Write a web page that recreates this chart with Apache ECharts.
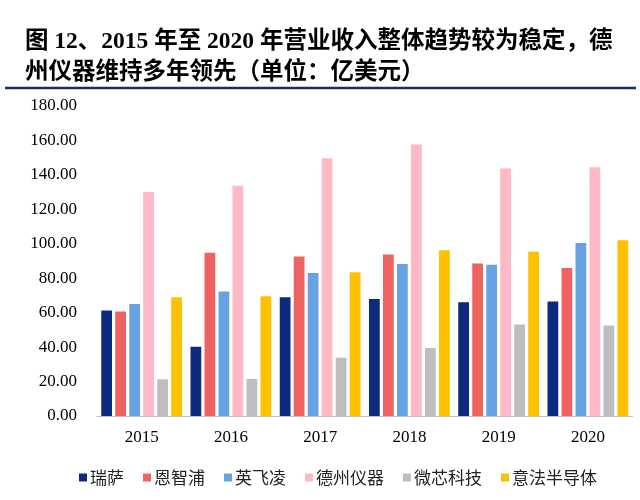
<!DOCTYPE html>
<html>
<head>
<meta charset="utf-8">
<script src="https://cdn.jsdelivr.net/npm/echarts@6/dist/echarts.min.js"></script>
<style>html,body{margin:0;padding:0;background:#fff;}#c{width:640px;height:500px;}</style>
</head>
<body>
<div id="c"></div>
<script>
var years = ['2015', '2016', '2017', '2018', '2019', '2020'];
var renesas  = [61.3, 40.2, 69.0, 68.0, 66.0, 66.5];
var nxp      = [60.7, 94.8, 92.6, 93.8, 88.6, 85.9];
var infineon = [65.0, 72.3, 83.1, 88.2, 87.8, 100.4];
var ti       = [130.0, 133.7, 149.6, 157.6, 143.7, 144.5];
var microchip= [21.3, 21.5, 33.9, 39.5, 53.2, 52.6];
var st       = [68.9, 69.6, 83.5, 96.3, 95.4, 102.1];
var seriesNames = ['瑞萨', '恩智浦', '英飞凌', '德州仪器', '微芯科技', '意法半导体'];
var seriesData = [renesas, nxp, infineon, ti, microchip, st];
var colors = ['#0E2A7E', '#EF6262', '#67A2E2', '#FFB8C6', '#BEBEBE', '#FFC000'];

var serif = "'Liberation Serif', 'Times New Roman', 'Noto Sans CJK SC', serif";
var chart = echarts.init(document.getElementById('c'), null, {renderer: 'canvas'});
chart.setOption({
  animation: false,
  backgroundColor: '#fff',
  color: colors,
  title: {
    text: '图 12、2015 年至 2020 年营业收入整体趋势较为稳定，德\n州仪器维持多年领先（单位：亿美元）',
    left: 20,
    top: 21,
    textStyle: {fontFamily: serif, fontWeight: 'bold', fontSize: 23.5, lineHeight: 31, color: '#000'}
  },
  graphic: [{
    type: 'line',
    shape: {x1: 5, y1: 88, x2: 636, y2: 88},
    style: {stroke: '#1F2A6E', lineWidth: 2.5}
  }],
  grid: {left: 97, right: 7.5, top: 106, bottom: 84},
  legend: {
    left: 74,
    top: 464,
    itemWidth: 8,
    itemHeight: 8,
    itemGap: 19,
    icon: 'rect',
    textStyle: {fontFamily: "'Noto Sans CJK SC', sans-serif", fontSize: 17, color: '#222', padding: [0, 0, 0, -2]},
    data: seriesNames
  },
  xAxis: {
    type: 'category',
    data: years,
    axisLine: {lineStyle: {color: '#BFBFBF', width: 1}},
    axisTick: {show: false},
    axisLabel: {fontFamily: serif, fontSize: 17, color: '#000', margin: 13}
  },
  yAxis: {
    type: 'value',
    min: 0,
    max: 180,
    interval: 20,
    axisLine: {show: false},
    axisTick: {show: false},
    splitLine: {show: false},
    axisLabel: {fontFamily: serif, fontSize: 17, color: '#000', margin: 20,
      formatter: function (v) { return v.toFixed(2); }}
  },
  series: seriesNames.map(function (n, i) {
    return {
      name: n,
      type: 'bar',
      data: seriesData[i],
      barGap: '30%',
      barCategoryGap: '9.5%'
    };
  })
});
</script>
</body>
</html>
